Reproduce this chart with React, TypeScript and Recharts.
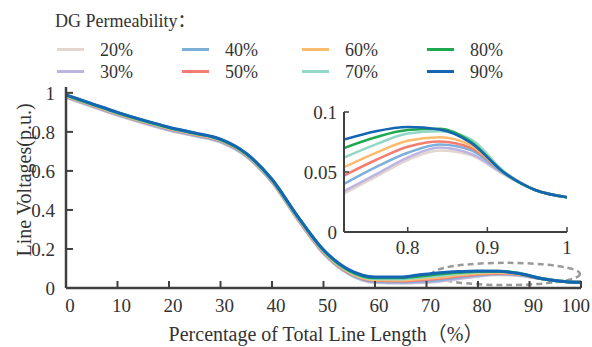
import React from 'react';
import { LineChart, Line, XAxis, YAxis, ReferenceArea, CartesianGrid } from 'recharts';

const positions = [0, 5, 10, 15, 20, 25, 30, 35, 40, 45, 50, 55, 60, 65, 68, 72, 76, 80, 84, 88, 92, 96, 100];

const p20 = [0.976, 0.930, 0.885, 0.845, 0.808, 0.779, 0.747, 0.674, 0.541, 0.350, 0.176, 0.070, 0.028, 0.025, 0.027, 0.032, 0.046, 0.060, 0.068, 0.064, 0.048, 0.035, 0.029];
const p30 = [0.978, 0.932, 0.887, 0.847, 0.810, 0.781, 0.749, 0.676, 0.543, 0.352, 0.178, 0.072, 0.030, 0.027, 0.029, 0.034, 0.048, 0.062, 0.0705, 0.065, 0.049, 0.035, 0.029];
const p40 = [0.980, 0.935, 0.890, 0.850, 0.813, 0.784, 0.752, 0.679, 0.546, 0.355, 0.181, 0.075, 0.034, 0.031, 0.034, 0.040, 0.054, 0.066, 0.073, 0.068, 0.049, 0.035, 0.029];
const p50 = [0.982, 0.937, 0.892, 0.852, 0.816, 0.787, 0.755, 0.682, 0.549, 0.357, 0.184, 0.078, 0.038, 0.036, 0.040, 0.047, 0.060, 0.071, 0.0755, 0.070, 0.050, 0.035, 0.029];
const p60 = [0.984, 0.939, 0.894, 0.854, 0.818, 0.789, 0.757, 0.684, 0.551, 0.360, 0.187, 0.081, 0.042, 0.041, 0.046, 0.054, 0.066, 0.076, 0.079, 0.072, 0.050, 0.035, 0.029];
const p70 = [0.986, 0.941, 0.896, 0.856, 0.820, 0.791, 0.759, 0.686, 0.553, 0.362, 0.190, 0.085, 0.047, 0.046, 0.053, 0.062, 0.073, 0.082, 0.084, 0.077, 0.051, 0.035, 0.029];
const p80 = [0.988, 0.943, 0.898, 0.858, 0.822, 0.793, 0.761, 0.688, 0.555, 0.365, 0.193, 0.089, 0.052, 0.052, 0.059, 0.070, 0.079, 0.085, 0.086, 0.075, 0.050, 0.035, 0.029];
const p90 = [0.990, 0.945, 0.900, 0.860, 0.824, 0.795, 0.763, 0.690, 0.557, 0.367, 0.196, 0.093, 0.057, 0.057, 0.065, 0.077, 0.084, 0.0875, 0.0855, 0.074, 0.050, 0.035, 0.029];

const seriesKeys = ['p20', 'p30', 'p40', 'p50', 'p60', 'p70', 'p80', 'p90'];
const seriesLabels = ['20%', '30%', '40%', '50%', '60%', '70%', '80%', '90%'];
const seriesValues = [p20, p30, p40, p50, p60, p70, p80, p90];
const seriesColors = ['#e2d6ce', '#bcb5e2', '#7eafd9', '#f47d71', '#fdbb6e', '#92d7c8', '#1fa84f', '#1565b5'];

const mainXTicks = [0, 10, 20, 30, 40, 50, 60, 70, 80, 90, 100];
const mainYTicks = [0, 0.2, 0.4, 0.6, 0.8, 1];
const insetXTicks = [80, 90, 100];
const insetYTicks = [0, 0.05, 0.1];

const data = positions.map((x, i) => {
  const row: any = { x };
  seriesKeys.forEach((k, j) => {
    row[k] = seriesValues[j][i];
  });
  return row;
});
const insetData = data.filter((d) => d.x >= 72);

const FONT = "'Liberation Serif', 'Times New Roman', serif";
const FONT_CJK = "'Liberation Serif', 'Noto Sans CJK SC', serif";
const FRAME = '#404040';
const TEXT = '#333333';

const tickStyle = { fill: TEXT, fontSize: 19, fontFamily: FONT };

const legendCols = [57, 182, 302, 427];
const legendRows = [50, 72];

const MainXTick = (props: any) => {
  const { x, y, payload } = props;
  const last = payload.value === 100;
  return (
    <text
      x={last ? x + 9 : x + 4}
      y={y + 13.5}
      textAnchor={last ? 'end' : 'middle'}
      fill={TEXT}
      fontSize={19}
      fontFamily={FONT}
    >
      {String(payload.value)}
    </text>
  );
};

const Ellipse = (props: any) => {
  const { x, y, width, height } = props;
  return (
    <ellipse
      cx={x + width / 2}
      cy={y + height / 2}
      rx={Math.abs(width) / 2}
      ry={Math.abs(height) / 2}
      fill="none"
      stroke="#9a9a9a"
      strokeWidth={2.5}
      strokeDasharray="6 4"
    />
  );
};

export default function App() {
  return (
    <div style={{ position: 'absolute', left: 0, top: 0, width: 592, height: 347, background: '#fff', fontFamily: FONT }}>
      <div style={{ position: 'absolute', left: 55, top: 12, fontSize: 18, lineHeight: '18px', color: TEXT, whiteSpace: 'nowrap', fontFamily: FONT_CJK }}>
        DG Permeability：
      </div>
      {seriesLabels.map((lab, i) => {
        const col = Math.floor(i / 2);
        const row = i % 2;
        const lx = legendCols[col];
        const cy = legendRows[row];
        return (
          <React.Fragment key={lab}>
            <div style={{ position: 'absolute', left: lx, top: cy - 2, width: 27, height: 3, background: seriesColors[i] }} />
            <div style={{ position: 'absolute', left: lx + 43, top: cy - 9, fontSize: 18, lineHeight: '18px', color: TEXT, whiteSpace: 'nowrap' }}>
              {lab}
            </div>
          </React.Fragment>
        );
      })}

      <div style={{ position: 'absolute', left: 0, top: 0 }}>
        <LineChart width={592} height={347} data={data} margin={{ top: 87, right: 11, bottom: 29, left: 0 }}>
          <XAxis
            xAxisId="b"
            dataKey="x"
            type="number"
            domain={[0, 100]}
            ticks={mainXTicks}
            interval={0}
            height={30}
            tickSize={-7}
            tickMargin={17}
            tick={<MainXTick />}
            axisLine={{ stroke: FRAME, strokeWidth: 2.5 }}
            tickLine={{ stroke: FRAME, strokeWidth: 2 }}
          />
          <XAxis
            xAxisId="t"
            orientation="top"
            dataKey="x"
            type="number"
            domain={[0, 100]}
            ticks={mainXTicks}
            interval={0}
            height={0}
            tickSize={-7}
            tick={false}
            axisLine={{ stroke: FRAME, strokeWidth: 2.5 }}
            tickLine={{ stroke: FRAME, strokeWidth: 2 }}
          />
          <YAxis
            yAxisId="l"
            type="number"
            domain={[0, 1.03]}
            ticks={mainYTicks}
            interval={0}
            width={66}
            tickSize={-7}
            tickMargin={18}
            tick={tickStyle}
            tickFormatter={(v: number) => String(v)}
            axisLine={{ stroke: FRAME, strokeWidth: 2.5 }}
            tickLine={{ stroke: FRAME, strokeWidth: 2 }}
          />
          <YAxis
            yAxisId="r"
            orientation="right"
            type="number"
            domain={[0, 1.03]}
            ticks={mainYTicks}
            interval={0}
            width={0}
            tickSize={-7}
            tick={false}
            axisLine={{ stroke: FRAME, strokeWidth: 2.5 }}
            tickLine={{ stroke: FRAME, strokeWidth: 2 }}
          />
          {seriesKeys.map((k, i) => (
            <Line
              key={k}
              xAxisId="b"
              yAxisId="l"
              dataKey={k}
              type="monotone"
              stroke={seriesColors[i]}
              strokeWidth={3}
              dot={false}
              isAnimationActive={false}
            />
          ))}
          <ReferenceArea
            xAxisId="b"
            yAxisId="l"
            x1={71.1}
            x2={99.8}
            y1={0.015}
            y2={0.129}
            ifOverflow="visible"
            shape={Ellipse}
          />
        </LineChart>
      </div>

      <div style={{ position: 'absolute', left: 290, top: 92 }}>
        <LineChart width={282} height={173} data={insetData} margin={{ top: 20, right: 5, bottom: 3, left: 0 }}>
          <CartesianGrid fill="#fff" stroke="transparent" xAxisId="b" yAxisId="l" />
          <XAxis
            xAxisId="b"
            dataKey="x"
            type="number"
            domain={[72, 100]}
            allowDataOverflow
            ticks={insetXTicks}
            interval={0}
            height={30}
            tickSize={-5}
            tickMargin={14}
            tick={tickStyle}
            tickFormatter={(v: number) => String(v / 100)}
            axisLine={{ stroke: FRAME, strokeWidth: 2 }}
            tickLine={{ stroke: FRAME, strokeWidth: 1.5 }}
          />
          <XAxis
            xAxisId="t"
            orientation="top"
            dataKey="x"
            type="number"
            domain={[72, 100]}
            allowDataOverflow
            ticks={insetXTicks}
            interval={0}
            height={0}
            tickSize={-5}
            tick={false}
            axisLine={{ stroke: FRAME, strokeWidth: 2 }}
            tickLine={{ stroke: FRAME, strokeWidth: 1.5 }}
          />
          <YAxis
            yAxisId="l"
            type="number"
            domain={[0, 0.1]}
            allowDataOverflow
            ticks={insetYTicks}
            interval={0}
            width={54}
            tickSize={-5}
            tickMargin={12}
            tick={tickStyle}
            tickFormatter={(v: number) => String(v)}
            axisLine={{ stroke: FRAME, strokeWidth: 2 }}
            tickLine={{ stroke: FRAME, strokeWidth: 1.5 }}
          />
          <YAxis
            yAxisId="r"
            orientation="right"
            type="number"
            domain={[0, 0.1]}
            allowDataOverflow
            ticks={insetYTicks}
            interval={0}
            width={0}
            tickSize={-5}
            tick={false}
            axisLine={{ stroke: FRAME, strokeWidth: 2 }}
            tickLine={{ stroke: FRAME, strokeWidth: 1.5 }}
          />
          {seriesKeys.map((k, i) => (
            <Line
              key={k}
              xAxisId="b"
              yAxisId="l"
              dataKey={k}
              type="monotone"
              stroke={seriesColors[i]}
              strokeWidth={2.5}
              dot={false}
              isAnimationActive={false}
            />
          ))}
        </LineChart>
      </div>

      <div style={{ position: 'absolute', left: 126, top: 323.5, width: 400, textAlign: 'center', fontSize: 20, lineHeight: '20px', color: TEXT, whiteSpace: 'nowrap', fontFamily: FONT_CJK }}>
        Percentage of Total Line Length（%）
      </div>
      <div style={{ position: 'absolute', left: 24 - 110, top: 180 - 10, width: 220, textAlign: 'center', fontSize: 20, lineHeight: '20px', color: TEXT, whiteSpace: 'nowrap', transform: 'rotate(-90deg)', transformOrigin: '50% 50%' }}>
        Line Voltages(p.u.)
      </div>
    </div>
  );
}
